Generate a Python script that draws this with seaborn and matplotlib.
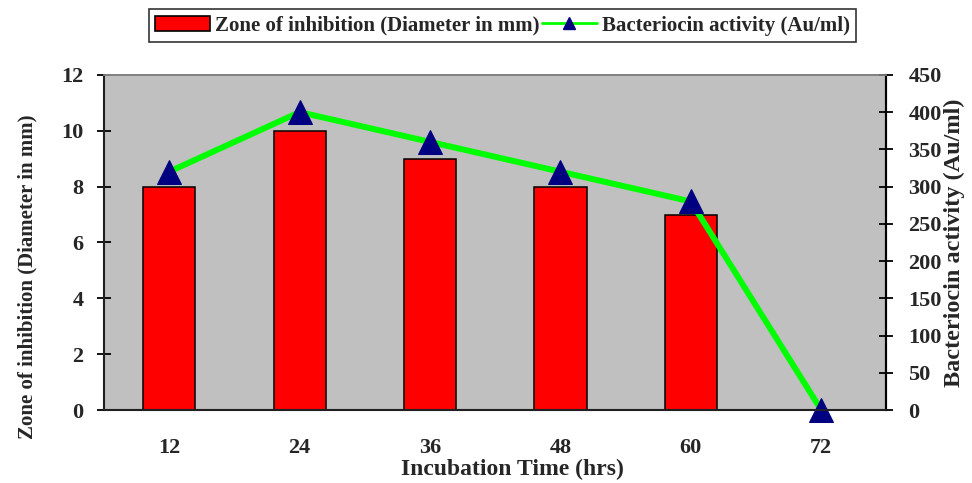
import matplotlib
matplotlib.use("Agg")
import matplotlib.pyplot as plt
import seaborn as sns
import numpy as np
import pandas as pd
from matplotlib.patches import Patch
from matplotlib.lines import Line2D

categories = ["12", "24", "36", "48", "60", "72"]
zone_mm = [8, 10, 9, 8, 7, 0]
activity = [320, 400, 360, 320, 280, 0]

sns.set_theme(style="white")
plt.rcParams['font.family'] = ['Liberation Serif', 'DejaVu Serif']
plt.rcParams['font.weight'] = 'bold'

df = pd.DataFrame({"time": categories, "zone": zone_mm, "act": activity})

fig = plt.figure(figsize=(9.72, 4.83), dpi=100)
ax = fig.add_axes([0.107, 0.151, 0.805, 0.694])
ax.set_facecolor("#C0C0C0")
sns.barplot(data=df, x="time", y="zone", color="#FF0000", width=0.4,
            edgecolor="black", linewidth=1.1, saturation=1, ax=ax)
ax.set_xlim(-0.5, 5.5)
ax.set_ylim(0, 12)
ax.set_yticks(range(0, 13, 2))
ax.set_xticks(np.arange(len(categories)))
ax.set_xticklabels(categories, fontsize=16, fontweight='bold')
ax.set_xticks(np.arange(len(categories) + 1) - 0.5, minor=True)
ax.tick_params(axis='x', which='major', length=0, pad=20)
ax.tick_params(axis='x', which='minor', length=9.5, width=1.3, direction='inout', color='black')
ax.tick_params(axis='y', length=9.5, width=1.3, direction='inout', labelsize=16, color='black', pad=10)
for lab in ax.get_yticklabels():
    lab.set_fontweight('bold')
ax.set_xlabel("Incubation Time (hrs)", fontsize=17, fontweight='bold')
ax.xaxis.set_label_coords(0.522, -0.145)
ax.set_ylabel("Zone of inhibition (Diameter in mm)", fontsize=15, fontweight='bold')
ax.yaxis.set_label_coords(-0.085, 0.397)
for s in ["left", "bottom"]:
    ax.spines[s].set_color("black")
    ax.spines[s].set_linewidth(1.5)
ax.spines["top"].set_color("#808080")
ax.spines["right"].set_color("black")
ax.spines["right"].set_linewidth(1.5)

ax2 = ax.twinx()
pos = np.arange(len(categories))
sns.lineplot(x=pos, y=activity, color="#00FF00", linewidth=4.3, ax=ax2,
             marker="^", markersize=17, markerfacecolor="#000080",
             markeredgecolor="#000080", legend=False)
ax2.set_xlim(-0.5, 5.5)
ax2.set_ylim(0, 450)
ax2.set_yticks(range(0, 451, 50))
ax2.tick_params(axis='y', length=9.5, width=1.3, direction='inout', labelsize=16, color='black', pad=11)
for lab in ax2.get_yticklabels():
    lab.set_fontweight('bold')
ax2.set_ylabel("Bacteriocin activity (Au/ml)", fontsize=17.5, fontweight='bold')
ax2.yaxis.set_label_coords(1.0735, 0.5)
for l in ax2.lines:
    l.set_clip_on(False)
ax2.spines["right"].set_color("black")
ax2.spines["right"].set_linewidth(1.5)
ax2.spines["top"].set_color("#808080")

handles = [Patch(facecolor="#FF0000", edgecolor="black", linewidth=1.2),
           Line2D([0], [0], color="#00FF00", linewidth=2, marker="^", markersize=9,
                  markerfacecolor="#000080", markeredgecolor="#000080")]
labels = ["Zone of inhibition (Diameter in mm)", "Bacteriocin activity (Au/ml)"]
leg = fig.legend(handles, labels, loc="center", bbox_to_anchor=(0.517, 0.947), ncol=2,
                 frameon=True, fancybox=False, edgecolor="black",
                 handlelength=2.6, columnspacing=0.15, handletextpad=0.25,
                 borderpad=0.3, prop={'weight': 'bold', 'size': 15})
leg.get_frame().set_linewidth(1.2)

fig.savefig("out.png", dpi=100)
